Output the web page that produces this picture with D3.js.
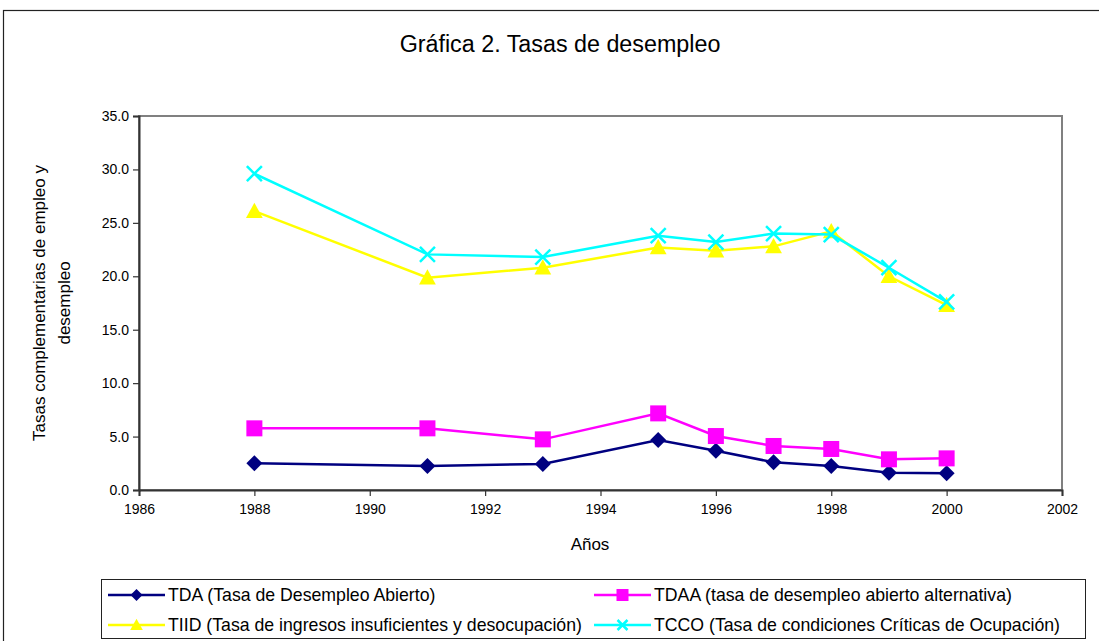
<!DOCTYPE html>
<html>
<head>
<meta charset="utf-8">
<script src="https://cdn.jsdelivr.net/npm/d3@7"></script>
<style>
  body { margin: 0; background: #fff; }
  text { font-family: "Liberation Sans", Arial, sans-serif; fill: #000; }
</style>
</head>
<body>
<svg width="1099" height="641"></svg>
<script>
var years = [1988, 1991, 1993, 1995, 1996, 1997, 1998, 1999, 2000];
var tda  = [2.5, 2.25, 2.43, 4.68, 3.68, 2.59, 2.25, 1.62, 1.56];
var tdaa = [5.77, 5.77, 4.74, 7.17, 5.05, 4.12, 3.84, 2.87, 2.96];
var tiid = [26.1, 19.87, 20.8, 22.7, 22.4, 22.8, 24.2, 20.0, 17.3];
var tcco = [29.6, 22.05, 21.8, 23.8, 23.2, 24.0, 23.9, 20.8, 17.6];
var xTicks = [1986, 1988, 1990, 1992, 1994, 1996, 1998, 2000, 2002];
var yTicks = [0, 5, 10, 15, 20, 25, 30, 35];

var series = [
    {name: "TDA (Tasa de Desempleo Abierto)", values: tda, color: "#000080", marker: "diamond"},
    {name: "TDAA (tasa de desempleo abierto alternativa)", values: tdaa, color: "#ff00ff", marker: "square"},
    {name: "TIID (Tasa de ingresos insuficientes y desocupación)", values: tiid, color: "#ffff00", marker: "triangle"},
    {name: "TCCO (Tasa de condiciones Críticas de Ocupación)", values: tcco, color: "#00ffff", marker: "x"}
];

var svg = d3.select("svg");
var margin = {top: 116, left: 139, right: 1062, bottom: 490};

// outer chart border
svg.append("rect")
    .attr("x", 3.5).attr("y", 10.5)
    .attr("width", 1110).attr("height", 700)
    .attr("fill", "none").attr("stroke", "#222").attr("stroke-width", 1.2);

svg.append("text")
    .attr("x", 560).attr("y", 52)
    .attr("text-anchor", "middle")
    .style("font-size", "23.3px")
    .text("Gráfica 2. Tasas de desempleo");

var x = d3.scaleLinear().domain([1986, 2002]).range([margin.left, margin.right]);
var y = d3.scaleLinear().domain([0, 35]).range([margin.bottom, margin.top]);

// plot area border
svg.append("rect")
    .attr("x", margin.left).attr("y", margin.top)
    .attr("width", margin.right - margin.left)
    .attr("height", margin.bottom - margin.top)
    .attr("fill", "none").attr("stroke", "#808080").attr("stroke-width", 2);

var gx = svg.append("g")
    .attr("transform", "translate(0," + margin.bottom + ")")
    .call(d3.axisBottom(x).tickValues(xTicks).tickFormat(d3.format("d")).tickSize(6).tickPadding(5));
var gy = svg.append("g")
    .attr("transform", "translate(" + margin.left + ",0)")
    .call(d3.axisLeft(y).tickValues(yTicks).tickFormat(d3.format(".1f")).tickSize(6).tickPadding(4));

[gx, gy].forEach(function (g) {
    g.select(".domain").attr("stroke", "#333").attr("stroke-width", 2);
    g.selectAll(".tick line").attr("stroke", "#333").attr("stroke-width", 1.2);
    g.selectAll(".tick text").style("font-size", "14px").style("font-family", "Liberation Sans, Arial, sans-serif");
});
gx.selectAll(".tick text").attr("dy", "0.95em");

svg.append("text")
    .attr("x", 590).attr("y", 550)
    .attr("text-anchor", "middle")
    .style("font-size", "17px")
    .text("Años");

var yl = svg.append("text")
    .attr("transform", "translate(0,303) rotate(-90)")
    .attr("text-anchor", "middle")
    .style("font-size", "17px");
yl.append("tspan").attr("x", 0).attr("y", 45).text("Tasas complementarias de empleo y");
yl.append("tspan").attr("x", 0).attr("y", 70).text("desempleo");

function drawMarker(g, type, color, s) {
    if (type === "diamond") {
        g.append("path")
            .attr("d", "M0," + (-s) + "L" + s + ",0L0," + s + "L" + (-s) + ",0Z")
            .attr("fill", color);
    } else if (type === "square") {
        g.append("rect")
            .attr("x", -s).attr("y", -s).attr("width", 2 * s).attr("height", 2 * s)
            .attr("fill", color);
    } else if (type === "triangle") {
        g.append("path")
            .attr("d", "M0," + (-s * 1.05) + "L" + (s * 1.05) + "," + (s * 0.85) + "L" + (-s * 1.05) + "," + (s * 0.85) + "Z")
            .attr("fill", color);
    } else {
        g.append("path")
            .attr("d", "M" + (-s) + "," + (-s) + "L" + s + "," + s + "M" + s + "," + (-s) + "L" + (-s) + "," + s)
            .attr("stroke", color).attr("stroke-width", 2.5).attr("fill", "none");
    }
}

var line = d3.line()
    .x(function (d) { return x(d[0]); })
    .y(function (d) { return y(d[1]); });

series.forEach(function (s) {
    var pts = years.map(function (yr, i) { return [yr, s.values[i]]; });
    svg.append("path")
        .datum(pts)
        .attr("d", line)
        .attr("fill", "none")
        .attr("stroke", s.color)
        .attr("stroke-width", 2.5);
    pts.forEach(function (p) {
        var g = svg.append("g").attr("transform", "translate(" + x(p[0]) + "," + y(p[1]) + ")");
        drawMarker(g, s.marker, s.color, s.marker === "x" ? 7.5 : 8);
    });
});

// legend
svg.append("rect")
    .attr("x", 101.5).attr("y", 579.5)
    .attr("width", 984).attr("height", 59)
    .attr("fill", "#fff").attr("stroke", "#222").attr("stroke-width", 1);

var legPos = [[108, 595], [594, 595], [108, 625], [594, 625]];
series.forEach(function (s, i) {
    var lx = legPos[i][0], ly = legPos[i][1];
    svg.append("line")
        .attr("x1", lx).attr("x2", lx + 57)
        .attr("y1", ly).attr("y2", ly)
        .attr("stroke", s.color).attr("stroke-width", 2.5);
    var g = svg.append("g").attr("transform", "translate(" + (lx + 28.5) + "," + ly + ")");
    drawMarker(g, s.marker, s.color, s.marker === "x" ? 5 : 6);
    svg.append("text")
        .attr("x", lx + 60).attr("y", ly + 6)
        .style("font-size", "17.7px")
        .text(s.name);
});
</script>
</body>
</html>
